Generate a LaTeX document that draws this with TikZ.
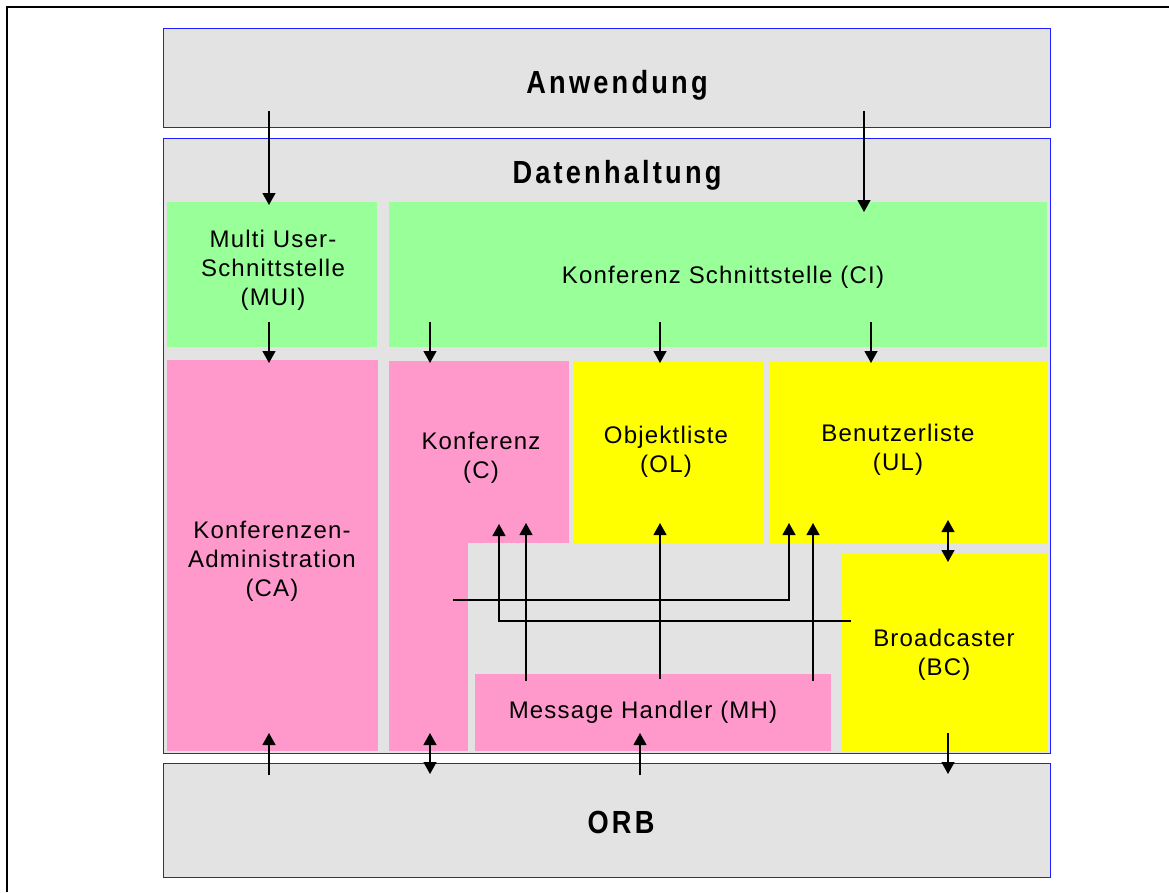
\documentclass[tikz,border=0pt]{standalone}
\usepackage{fontspec}
\usetikzlibrary{arrows.meta,calc,fit}
\newfontfamily\lblfont[LetterSpace=5]{Liberation Sans}
\newfontfamily\hdrfont[FakeStretch=0.85,LetterSpace=10]{Liberation Sans}
\definecolor{layergray}{RGB}{227,227,227}
\definecolor{ifgreen}{RGB}{153,255,153}
\definecolor{compink}{RGB}{255,153,204}
\definecolor{listyellow}{RGB}{255,255,0}
\definecolor{frameblue}{RGB}{30,30,255}
\begin{document}
\begin{tikzpicture}[x=1pt,y=-1pt,
  area/.style={inner sep=0pt,outer sep=0pt},
  layer/.style={area,draw=frameblue,fill=layergray,line width=1pt},
  ifc/.style={area,fill=ifgreen},
  comp/.style={area,fill=compink},
  list/.style={area,fill=listyellow},
  hdr/.style={inner sep=0pt,anchor=base,font=\hdrfont\bfseries\fontsize{32}{36}\selectfont},
  lbl/.style={inner sep=0pt,align=center,font=\lblfont\fontsize{24}{29}\selectfont},
  conn/.style={draw=black,line width=1.2pt},
  arr/.style={conn,-{Triangle[width=13pt,length=12pt]}},
  darr/.style={conn,{Triangle[width=13pt,length=12pt]}-{Triangle[width=13pt,length=12pt]}}]
\useasboundingbox (0,0) rectangle (1169,892);

% page frame
\draw[line width=2pt] (7,892) -- (7,7) -- (1169,7);

% layers
\node[layer,fit={(163,28)(1050,127)}] (app) {};
\node[layer,fit={(163,138)(1050,753)}] (data) {};
\node[layer,fit={(163,763)(1050,877)}] (orb) {};

% interfaces
\node[ifc,fit={(167,202)(377,347)}] (mui) {};
\node[ifc,fit={(389,202)(1047,347)}] (ci) {};

% components
\node[comp,fit={(167,360)(378,751)}] (ca) {};
\node[comp,fit={(389,361)(569,543)}] (conf) {};
\node[comp,fit={(389,540)(468,751)}] (confstem) {};
\node[comp,fit={(475,674)(831,751)}] (mh) {};
\node[list,fit={(573,361)(763,543)}] (ol) {};
\node[list,fit={(770,361)(1047,543)}] (ul) {};
\node[list,fit={(841,553)(1047,751)}] (bc) {};

% texts
\node[hdr] (appT) at (617,93) {Anwendung};
\node[hdr] (dataT) at (617,183) {Datenhaltung};
\node[hdr] (orbT) at (621,833) {ORB};
\node[lbl] (muiT) at (273,270) {Multi User-\\Schnittstelle\\(MUI)};
\node[lbl] (ciT) at (723,277) {Konferenz Schnittstelle (CI)};
\node[lbl] (caT) at (272,561) {Konferenzen-\\Administration\\(CA)};
\node[lbl] (confT) at (481,458) {Konferenz\\(C)};
\node[lbl] (olT) at (666,452) {Objektliste\\(OL)};
\node[lbl] (ulT) at (898,450) {Benutzerliste\\(UL)};
\node[lbl] (bcT) at (944,655) {Broadcaster\\(BC)};
\node[lbl] (mhT) at (643,712) {Message Handler (MH)};

% x positions of the vertical connectors
\coordinate (xa) at (269,0);
\coordinate (xb) at (864,0);
\coordinate (xc) at (430,0);
\coordinate (xd) at (660,0);
\coordinate (xe) at (871,0);
\coordinate (xf) at (948,0);
\coordinate (xg) at (789,0);
\coordinate (xh) at (499,0);
\coordinate (xi) at (526,0);
\coordinate (xj) at (813,0);
\coordinate (xk) at (640,0);

% application -> interfaces
\draw[arr] ($(app.south -| xa)+(0,-16)$) -- ($(mui.north -| xa)+(0,3)$);
\draw[arr] ($(app.south -| xb)+(0,-16)$) -- ($(ci.north -| xb)+(0,10)$);

% interfaces -> components
\draw[arr] ($(mui.south -| xa)+(0,-25)$) -- ($(ca.north -| xa)+(0,3)$);
\draw[arr] ($(ci.south -| xc)+(0,-25)$) -- ($(conf.north -| xc)+(0,2)$);
\draw[arr] ($(ci.south -| xd)+(0,-25)$) -- ($(ol.north -| xd)+(0,2)$);
\draw[arr] ($(ci.south -| xe)+(0,-25)$) -- ($(ul.north -| xe)+(0,2)$);

% user list <-> broadcaster
\draw[darr] ($(ul.south -| xf)+(0,-23)$) -- ($(bc.north -| xf)+(0,9)$);

% conference -> user list, broadcaster -> conference
\draw[arr] ($(confstem.north west)+(64,60)$) -| ($(ul.south -| xg)+(0,-20)$);
\draw[arr] ($(bc.west)+(10,-31)$) -| ($(conf.south -| xh)+(0,-19)$);

% message handler -> components
\draw[arr] ($(mh.north -| xi)+(0,7)$) -- ($(conf.south -| xi)+(0,-20)$);
\draw[arr] ($(mh.north -| xd)+(0,5)$) -- ($(ol.south -| xd)+(0,-20)$);
\draw[arr] ($(mh.north -| xj)+(0,7)$) -- ($(ul.south -| xj)+(0,-20)$);

% ORB connections
\draw[arr] ($(orb.north -| xa)+(0,12)$) -- ($(ca.south -| xa)+(0,-18)$);
\draw[darr] ($(confstem.south -| xc)+(0,-18)$) -- ($(orb.north -| xc)+(0,11)$);
\draw[arr] ($(orb.north -| xk)+(0,12)$) -- ($(mh.south -| xk)+(0,-18)$);
\draw[arr] ($(bc.south -| xf)+(0,-18)$) -- ($(orb.north -| xf)+(0,11)$);
\end{tikzpicture}
\end{document}
